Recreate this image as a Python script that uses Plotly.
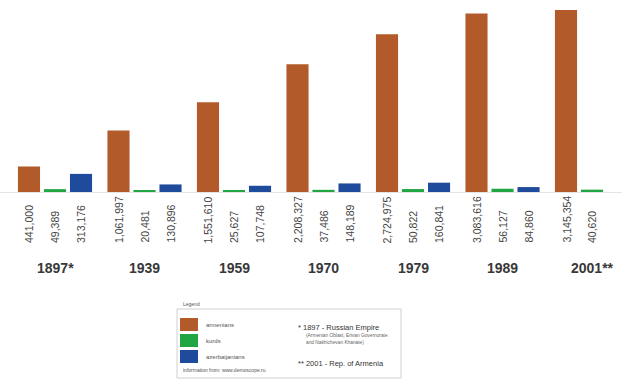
import plotly.graph_objects as go

# Census years and population by group
years = ["1897*", "1939", "1959", "1970", "1979", "1989", "2001**"]
armenians = [441000, 1061997, 1551610, 2208327, 2724975, 3083616, 3145354]
kurds = [49389, 20481, 25627, 37486, 50822, 56127, 40620]
azerbaijanians = [313176, 130896, 107748, 148189, 160841, 84860, None]

series_names = ["armenians", "kurds", "azerbaijanians"]
series_values = [armenians, kurds, azerbaijanians]
series_colors = ["#b25a2a", "#22a643", "#1f4b9c"]

notes = [
    "* 1897 - Russian Empire",
    "(Armenian Oblast, Erivan Governorate",
    "and Nakhichevan Khanate)",
    "** 2001 - Rep. of Armenia",
]
source = "information from: www.demoscope.ru"

# ---- geometry (pixels) ----
W, H = 622, 380
TOP, BASE = 10, 192
X_RANGE = [-0.6145, 6.335]
BARGAP = 0.128
GROUPGAP = 0.15
group_px = W / (X_RANGE[1] - X_RANGE[0])
slot_px = group_px * (1 - BARGAP) / 3


def px(x):
    return x / W


def py(y):
    return (BASE - y) / (BASE - TOP)


FONT = "Liberation Sans, Arial, sans-serif"

fig = go.Figure()
for name, vals, col in zip(series_names, series_values, series_colors):
    fig.add_trace(go.Bar(x=years, y=vals, name=name, marker_color=col,
                         marker_line_width=0, showlegend=False))

annotations = []
# value labels under each bar, rotated (x given as category index)
for i, vals in enumerate(series_values):
    for j, v in enumerate(vals):
        if v is None:
            continue
        annotations.append(dict(
            x=j, y=0, xref="x", yref="y", text=f"{v:,}", showarrow=False,
            textangle=-90, xanchor="center", yanchor="bottom",
            xshift=(i - 1) * slot_px, yshift=-(245 - BASE),
            font=dict(family=FONT, size=10.5, color="#444444"),
        ))
# year labels
for j, yr in enumerate(years):
    annotations.append(dict(
        x=j, y=0, xref="x", yref="y", text=yr, showarrow=False,
        xanchor="center", yanchor="middle", yshift=-(268 - BASE),
        font=dict(family=FONT, size=14, color="#383838", weight="bold"),
    ))

# ---- legend box ----
shapes = [dict(type="rect", xref="paper", yref="paper",
               x0=px(177), x1=px(401), y0=py(309), y1=py(378),
               line=dict(color="#d0d0d0", width=1), fillcolor="rgba(0,0,0,0)")]
annotations.append(dict(x=px(181), y=py(304), xref="paper", yref="paper",
                        text="Legend", showarrow=False, xanchor="left",
                        yanchor="middle",
                        font=dict(family=FONT, size=5, color="#555555")))
sw_tops = [318, 334, 350]
for name, col, top in zip(series_names, series_colors, sw_tops):
    shapes.append(dict(type="rect", xref="paper", yref="paper",
                       x0=px(180), x1=px(198), y0=py(top + 13), y1=py(top),
                       line=dict(width=0), fillcolor=col))
    annotations.append(dict(x=px(204), y=py(top + 6.5), xref="paper", yref="paper",
                            text=name, showarrow=False, xanchor="left",
                            yanchor="middle",
                            font=dict(family=FONT, size=6, color="#555555")))
annotations.append(dict(x=px(181), y=py(370), xref="paper", yref="paper",
                        text=source, showarrow=False, xanchor="left",
                        yanchor="middle",
                        font=dict(family=FONT, size=5, color="#555555")))
note_rows = [(notes[0], 327, 7.5, "#333333"), (notes[1], 335, 4.8, "#666666"),
             (notes[2], 342, 4.8, "#666666"), (notes[3], 363, 7.5, "#333333")]
for text, y, size, col in note_rows:
    annotations.append(dict(x=px(296 if size > 6 else 304), y=py(y),
                            xref="paper", yref="paper", text=text,
                            showarrow=False, xanchor="left", yanchor="middle",
                            font=dict(family=FONT, size=size, color=col)))

fig.update_layout(
    width=W, height=H,
    margin=dict(l=0, r=0, t=TOP, b=H - BASE, pad=0),
    paper_bgcolor="white", plot_bgcolor="white",
    barmode="group", bargap=BARGAP, bargroupgap=GROUPGAP,
    xaxis=dict(type="category", range=X_RANGE, showticklabels=False,
               showgrid=False, zeroline=False, showline=True,
               linecolor="#e4e4e4", linewidth=1, ticks=""),
    yaxis=dict(range=[0, max(armenians)], visible=False, showgrid=False,
               zeroline=False),
    annotations=annotations, shapes=shapes,
)

fig.write_html("out.html")
